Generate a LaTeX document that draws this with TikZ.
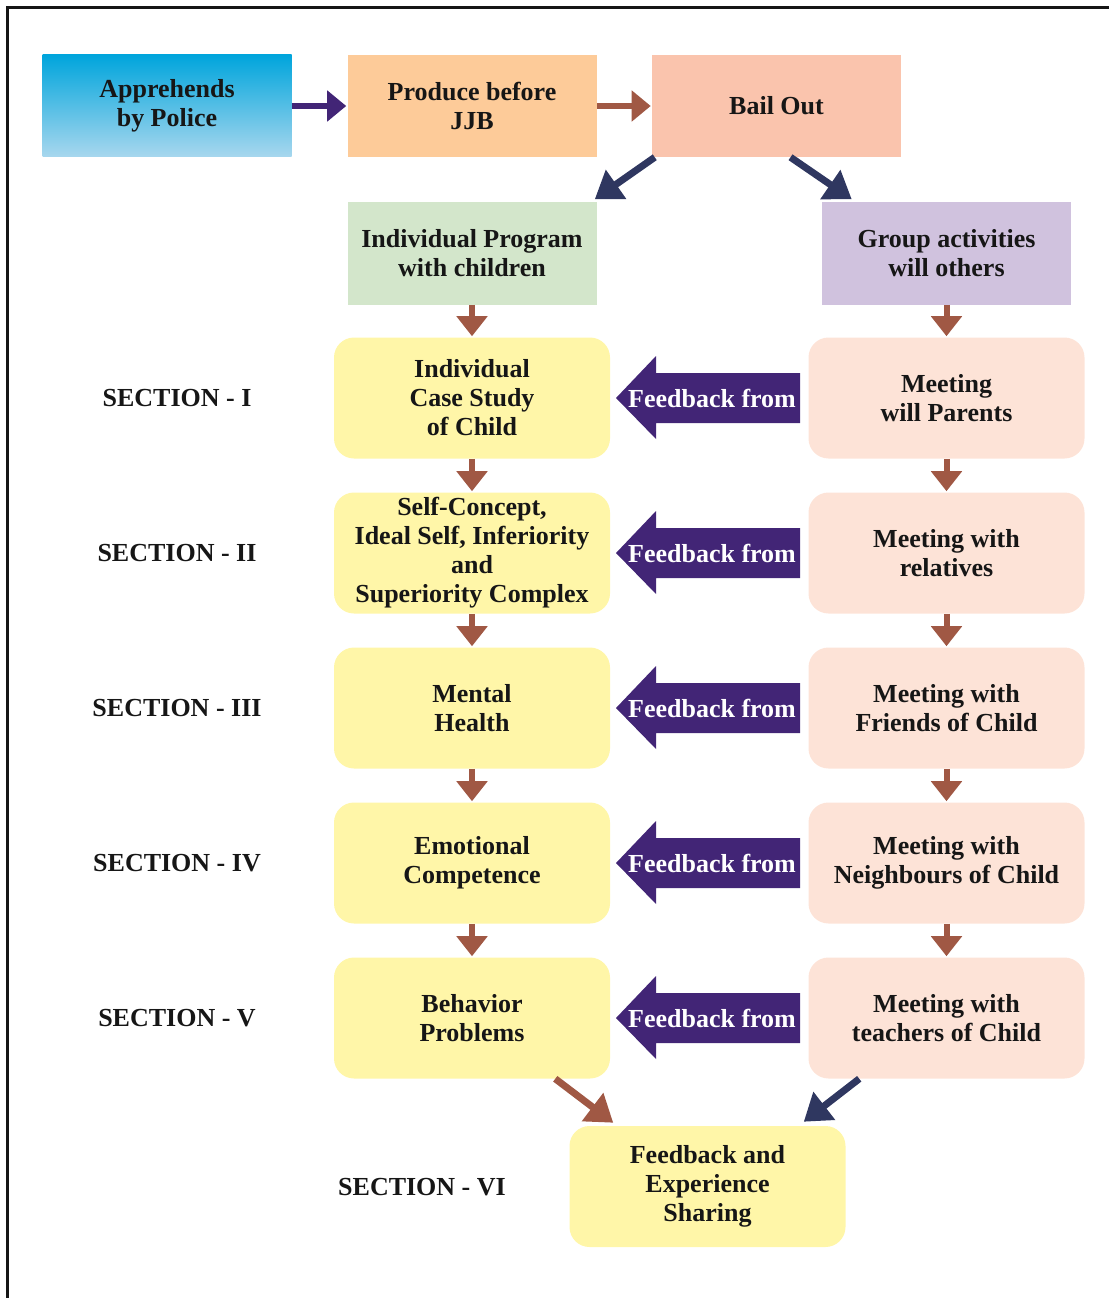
\documentclass[tikz,border=0pt]{standalone}
\usepackage{fontspec}
\setmainfont{Liberation Serif}
\usetikzlibrary{arrows.meta,calc}
\definecolor{ApprTop}{RGB}{0,165,220}
\definecolor{ApprBot}{RGB}{168,215,238}
\definecolor{JJBFill}{RGB}{253,203,153}
\definecolor{BailFill}{RGB}{250,196,173}
\definecolor{IndivFill}{RGB}{211,230,203}
\definecolor{GroupFill}{RGB}{208,194,222}
\definecolor{TopicFill}{RGB}{255,246,168}
\definecolor{MeetFill}{RGB}{253,227,215}
\definecolor{Brown}{RGB}{160,88,68}
\definecolor{Navy}{RGB}{47,55,96}
\definecolor{Purple}{RGB}{66,37,118}
\definecolor{Ink}{RGB}{22,22,22}
\tikzset{
  stage/.style={rectangle,minimum width=186.75pt,minimum height=76.5pt,inner sep=0pt,align=center,text=Ink,font=\fontsize{19.5}{21.75}\selectfont\bfseries},
  topic/.style={rectangle,rounded corners=15pt,fill=TopicFill,minimum width=207pt,minimum height=90.75pt,inner sep=0pt,align=center,text=Ink,font=\fontsize{19.5}{21.75}\selectfont\bfseries},
  meet/.style={topic,fill=MeetFill},
  seclabel/.style={text=Ink,font=\fontsize{19.5}{21.75}\selectfont\bfseries},
  fbtext/.style={text=white,inner sep=0pt,font=\fontsize{19.5}{21.75}\selectfont\bfseries},
  fbarrow/.style={fill=Purple},
  flow/.style={-{Triangle[width=22.5pt,length=15pt]},draw=Brown,line width=4.5pt,shorten >=0.75pt},
  link/.style={-{Triangle[width=25.5pt,length=19.5pt]},draw=Navy,line width=5.25pt},
  push/.style={-{Triangle[width=22.5pt,length=14.25pt]},draw=Purple,line width=4.5pt,shorten >=0.75pt},
  frame/.style={draw=Ink,line width=2.25pt}
}
\begin{document}
\begin{tikzpicture}[x=0.75pt,y=-0.75pt]
\useasboundingbox (0,0) rectangle (1109,1298);
\draw[frame] (1109,7.5) -- (7.5,7.5) -- (7.5,1298);

% first stages
\node[stage,top color=ApprTop,bottom color=ApprBot] (police) at (167,106) {Apprehends\\by Police};
\node[stage,fill=JJBFill] (jjb) at (472,106) {Produce before\\JJB};
\node[stage,fill=BailFill] (bail) at (776.5,106) {Bail Out};
\node[stage,fill=IndivFill] (indiv) at (472,253.5) {Individual Program\\with children};
\node[stage,fill=GroupFill] (group) at (946.5,253.5) {Group activities\\will others};

% sections
\node[topic] (l1) at (472,398) {Individual\\Case Study\\of Child};
\node[topic] (l2) at (472,553) {Self-Concept,\\Ideal Self, Inferiority\\and\\Superiority Complex};
\node[topic] (l3) at (472,708) {Mental\\Health};
\node[topic] (l4) at (472,863) {Emotional\\Competence};
\node[topic] (l5) at (472,1018) {Behavior\\Problems};
\node[meet] (r1) at (946.5,398) {Meeting\\will Parents};
\node[meet] (r2) at (946.5,553) {Meeting with\\relatives};
\node[meet] (r3) at (946.5,708) {Meeting with\\Friends of Child};
\node[meet] (r4) at (946.5,863) {Meeting with\\Neighbours of Child};
\node[meet] (r5) at (946.5,1018) {Meeting with\\teachers of Child};
\node[topic] (final) at (707.5,1186.5) {Feedback and\\Experience\\Sharing};

\node[seclabel] (s1) at (177,398) {SECTION - I};
\node[seclabel] (s2) at (177,553) {SECTION - II};
\node[seclabel] (s3) at (177,708) {SECTION - III};
\node[seclabel] (s4) at (177,863) {SECTION - IV};
\node[seclabel] (s5) at (177,1018) {SECTION - V};
\node[seclabel] (s6) at (422,1187) {SECTION - VI};

% feedback arrows
\foreach \y/\n in {398/1,553/2,708/3,863/4,1018/5}{
  \fill[fbarrow] (800,\y-25) -- (656,\y-25) -- (656,\y-42) -- (616,\y) -- (656,\y+41) -- (656,\y+25) -- (800,\y+25) -- cycle;
  \node[fbtext] (fb\n) at (712,\y) {Feedback from};
}

% connectors
\draw[push] (police) -- (jjb);
\draw[push,draw=Brown] (jjb) -- (bail);
\draw[link] ($(bail.south west)+(3,0)$) -- ($(indiv.north east)+(-2,-3)$);
\draw[link] ($(bail.south)+(14,0)$) -- ($(group.north west)+(30,-3)$);
\draw[flow] (indiv) -- (l1);
\draw[flow] (group) -- (r1);
\draw[flow] (l1) -- (l2);\draw[flow] (l2) -- (l3);\draw[flow] (l3) -- (l4);\draw[flow] (l4) -- (l5);
\draw[flow] (r1) -- (r2);\draw[flow] (r2) -- (r3);\draw[flow] (r3) -- (r4);\draw[flow] (r4) -- (r5);
\draw[link,draw=Brown] ($(l5.south east)+(-55,0)$) -- ($(final.north west)+(44,-3)$);
\draw[link] ($(r5.south west)+(51,0)$) -- ($(final.north east)+(-42,-4)$);
\end{tikzpicture}
\end{document}
